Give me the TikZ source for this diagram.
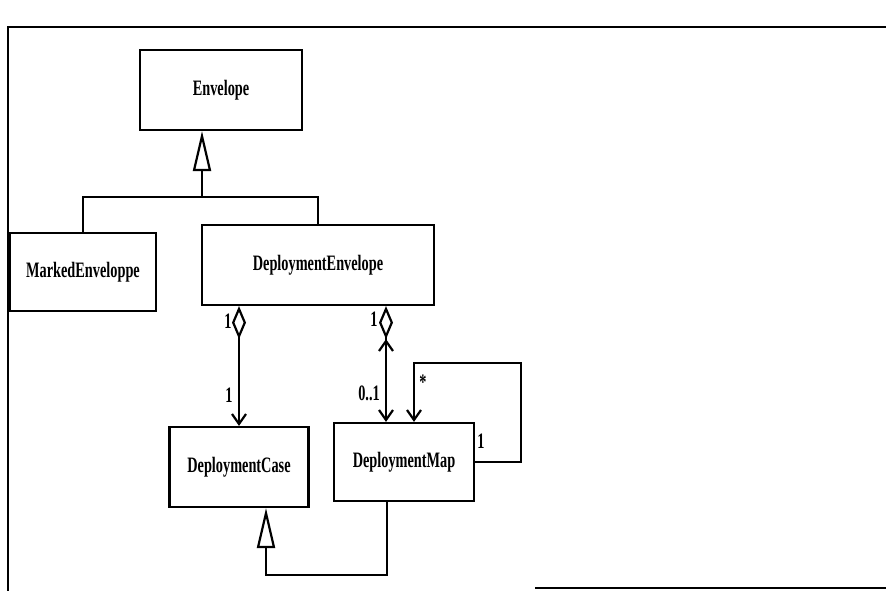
\documentclass[tikz,border=0pt]{standalone}
\usepackage{fontspec}
\newfontfamily\umlfont{Liberation Serif}[FakeStretch=0.65]
\usetikzlibrary{arrows.meta,calc}
\tikzset{
  umlclass/.style={draw,line width=2.2pt,rectangle,inner sep=0pt,
    font=\umlfont\bfseries\fontsize{22}{24}\selectfont},
  umllabel/.style={inner sep=0pt,font=\umlfont\bfseries\fontsize{22}{24}\selectfont},
  umlline/.style={draw,line width=2.2pt},
  gen/.style={umlline,-{Triangle[open,length=40pt,width=18pt,line width=2.2pt]}},
  agg/.style={umlline,{Diamond[open,length=33pt,width=14pt,line width=2.2pt]}-{Straight Barb[length=10pt,width=14pt,line width=2.2pt]}},
  biagg/.style={umlline,{Diamond[open,length=33pt,width=14pt,line width=2.2pt]Straight Barb[length=10pt,width=14pt,line width=2.2pt]}-{Straight Barb[length=10pt,width=14pt,line width=2.2pt]}},
  nav/.style={umlline,-{Straight Barb[length=10pt,width=14pt,line width=2.2pt]}}
}
\begin{document}
\begin{tikzpicture}[x=1pt,y=-1pt]
    \useasboundingbox (0,0) rectangle (886,591);
    % frame of the scanned page
    \draw[line width=2.2pt] (8,591) -- (8,27) -- (886,27);
    \draw[line width=2.2pt] (535,588) -- (886,588);

    % First the classes
    \node[umlclass,minimum width=162,minimum height=80] (env) at (221,90) {Envelope};
    \node[umlclass,minimum width=146,minimum height=78] (me) at (83,272) {MarkedEnveloppe};
    \node[umlclass,minimum width=232,minimum height=80] (de) at (318,265) {DeploymentEnvelope};
    \node[umlclass,minimum width=139,minimum height=80] (dc) at (239,467) {DeploymentCase};
    \node[umlclass,minimum width=140,minimum height=78] (dm) at (404,462) {DeploymentMap};

    % Generalisation to Envelope
    \coordinate (join) at (202,197);
    \draw[umlline] (me.north) |- (join) -| (de.north);
    \draw[gen] (join) -- (join |- env.south);

    % Aggregations of DeploymentEnvelope
    \coordinate (dmin) at ([xshift=-18pt]dm.north);
    \draw[agg] (de.south -| dc.north) -- (dc.north);
    \draw[biagg] (de.south -| dmin) -- (dmin);

    % DeploymentMap to itself
    \coordinate (loop) at (521,363);
    \coordinate (selfin) at ([xshift=10pt]dm.north);
    \draw[nav] (dm.east) -| (loop) -| (selfin);

    % Generalisation to DeploymentCase
    \coordinate (dmout) at ([xshift=-17pt]dm.south);
    \coordinate (bot) at (266,575);
    \draw[gen] (dmout) |- (bot) -- (bot |- dc.south);

    % Multiplicities
    \node[umllabel] (m1) at (228,321) {1};
    \node[umllabel] (m2) at (229,395) {1};
    \node[umllabel] (m3) at (374,319) {1};
    \node[umllabel] (m4) at (369,393) {0..1};
    \node[umllabel] (m5) at (423,382) {*};
    \node[umllabel] (m6) at (481,441) {1};
\end{tikzpicture}
\end{document}
